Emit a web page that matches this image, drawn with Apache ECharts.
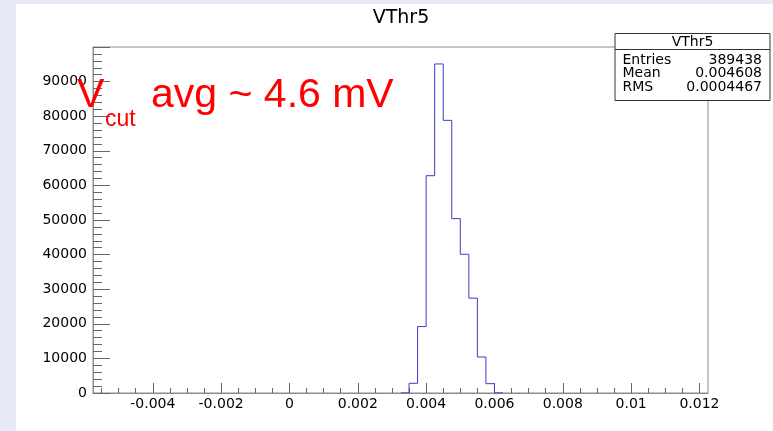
<!DOCTYPE html>
<html><head><meta charset="utf-8">
<script src="https://cdn.jsdelivr.net/npm/echarts@6/dist/echarts.min.js"></script>
<style>
html,body{margin:0;padding:0;width:773px;height:431px;overflow:hidden;background:#e6ebf7;}
#chart{position:absolute;left:16px;top:4px;width:757px;height:427px;background:#ffffff;}
</style></head><body><div id="chart"></div>
<script>
// histogram bins (edges) and counts
const binEdges = [0.00325,0.0035,0.00375,0.004,0.00425,0.0045,0.00475,0.005,0.00525,0.0055,0.00575,0.006,0.00625];
const counts = [40,2800,19200,62800,95100,78800,50400,40100,27400,10400,2700,40];
// axis tick labels
const xTickLabels = [-0.004,-0.002,0,0.002,0.004,0.006,0.008,0.01,0.012];
const yTickLabels = [0,10000,20000,30000,40000,50000,60000,70000,80000,90000];
// stats box
const statsTitle = 'VThr5';
const statsNames = ['Entries','Mean','RMS'];
const statsValues = ['389438','0.004608','0.0004467'];
const chartTitle = 'VThr5';

const xMin = -0.00575, xMax = 0.01225;
const minorX = [];
for (let i = -11; i <= 24; i++) minorX.push(Math.round(i * 0.0005 * 1e5) / 1e5);

// outline of histogram
const pts = [[binEdges[0], 0]];
counts.forEach((c, i) => { pts.push([binEdges[i], c]); pts.push([binEdges[i + 1], c]); });
pts.push([binEdges[binEdges.length - 1], 0]);

const rootFont = 'DejaVu Sans';
const axisGray = '#8c8c8c';
const tickGray = '#666';

const chart = echarts.init(document.getElementById('chart'), null, {renderer: 'canvas'});
chart.setOption({
  animation: false,
  backgroundColor: '#ffffff',
  title: {
    text: chartTitle, left: 385, top: 5, padding: 0, textAlign: 'center',
    textStyle: {fontFamily: rootFont, fontSize: 19, fontWeight: 'normal', color: '#000'}
  },
  grid: {left: 77, right: 65, top: 43, bottom: 38, show: true, borderColor: axisGray, borderWidth: 1, backgroundColor: 'transparent'},
  xAxis: [{
    type: 'value', min: xMin, max: xMax, position: 'bottom',
    axisLine: {show: true, onZero: false, lineStyle: {color: axisGray, width: 1}},
    axisTick: {show: true, inside: true, length: 10, customValues: xTickLabels, lineStyle: {color: tickGray}},
    axisLabel: {show: true, customValues: xTickLabels, margin: 4, fontFamily: rootFont, fontSize: 14, color: '#000',
      formatter: v => String(v)},
    splitLine: {show: false}
  }, {
    type: 'value', min: xMin, max: xMax, position: 'bottom',
    axisLine: {show: false},
    axisTick: {show: true, inside: true, length: 5, customValues: minorX, lineStyle: {color: tickGray}},
    axisLabel: {show: false},
    splitLine: {show: false}
  }],
  yAxis: {
    type: 'value', min: 0, max: 100000, interval: 10000,
    axisLine: {show: true, onZero: false, lineStyle: {color: axisGray, width: 1}},
    axisTick: {show: true, inside: true, length: 17, lineStyle: {color: tickGray}},
    minorTick: {show: true, splitNumber: 5, length: 9, lineStyle: {color: tickGray}},
    axisLabel: {show: true, customValues: yTickLabels, margin: 6, fontFamily: rootFont, fontSize: 14, color: '#000',
      formatter: v => String(v)},
    splitLine: {show: false}
  },
  series: [{
    type: 'line', xAxisIndex: 0, data: pts, showSymbol: false, symbol: 'none',
    lineStyle: {color: '#3d3dc4', width: 1}, z: 5
  }],
  graphic: [
    {type: 'group', z: 100, children: [
      {type: 'rect', shape: {x: 599, y: 29.5, width: 155, height: 67}, style: {fill: '#fff', stroke: '#333', lineWidth: 1}},
      {type: 'line', shape: {x1: 599, y1: 45.5, x2: 754, y2: 45.5}, style: {stroke: '#333', lineWidth: 1}},
      {type: 'text', x: 676.5, y: 38, style: {text: statsTitle, font: '14px "DejaVu Sans"', fill: '#000', align: 'center', verticalAlign: 'middle'}},
      ...statsNames.map((n, i) => ({type: 'text', x: 606.5, y: 56.5 + i * 13.2, style: {text: n, font: '14px "DejaVu Sans"', fill: '#000', align: 'left', verticalAlign: 'middle'}})),
      ...statsValues.map((n, i) => ({type: 'text', x: 746, y: 56.5 + i * 13.2, style: {text: n, font: '14px "DejaVu Sans"', fill: '#000', align: 'right', verticalAlign: 'middle'}}))
    ]},
    {type: 'text', z: 101, x: 61, y: 92, style: {text: 'V', font: '41px "Liberation Sans"', fill: '#ff0000', align: 'left', verticalAlign: 'middle'}},
    {type: 'text', z: 101, x: 89, y: 116, style: {text: 'cut', font: '23px "Liberation Sans"', fill: '#ff0000', align: 'left', verticalAlign: 'middle'}},
    {type: 'text', z: 101, x: 135, y: 92, style: {text: 'avg ~ 4.6 mV', font: '41px "Liberation Sans"', fill: '#ff0000', align: 'left', verticalAlign: 'middle'}}
  ]
});
</script></body></html>
